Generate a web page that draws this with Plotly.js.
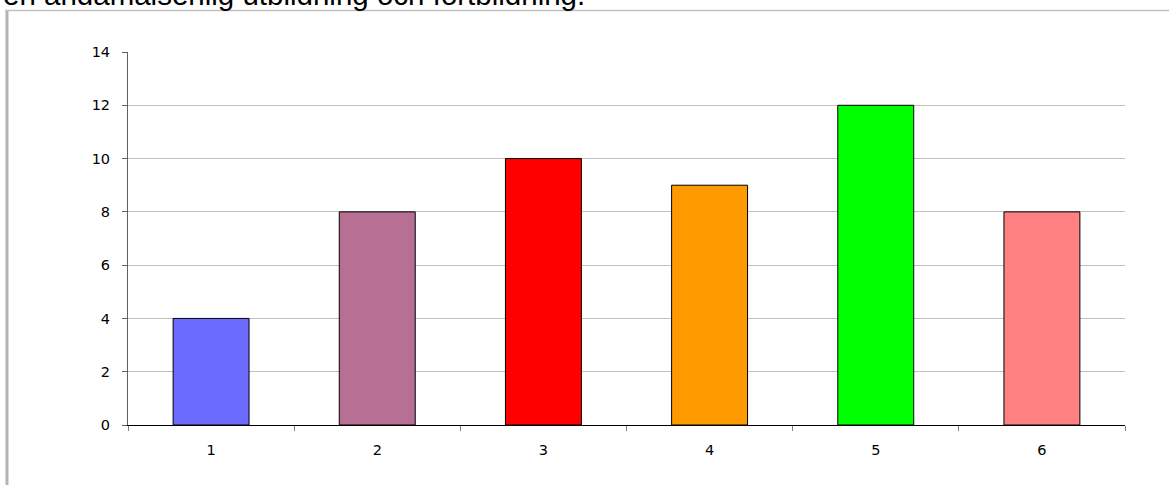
<!DOCTYPE html>
<html>
<head>
<meta charset="utf-8">
<script src="https://cdn.plot.ly/plotly-3.0.1.min.js"></script>
<style>
  html, body { margin: 0; padding: 0; background: #ffffff; }
  #chart { width: 1169px; height: 485px; }
</style>
</head>
<body>
<div id="chart"></div>
<script>
// Categories and counts
const categories = ['1', '2', '3', '4', '5', '6'];
const counts = [4, 8, 10, 9, 12, 8];
const barColors = ['#6B6BFF', '#B77093', '#FF0000', '#FF9900', '#00FF00', '#FF8080'];
const yTicks = [0, 2, 4, 6, 8, 10, 12, 14];
const headingText = 'en ändamålsenlig utbildning och fortbildning.';

const tickFont = { family: 'DejaVu Sans, Verdana, sans-serif', size: 14.5, color: '#000000' };

const trace = {
  type: 'bar',
  x: categories,
  y: counts,
  marker: { color: barColors, line: { color: '#000000', width: 1 } },
  hoverinfo: 'x+y'
};

const layout = {
  width: 1169,
  height: 485,
  margin: { l: 128, r: 44, t: 52, b: 60 },
  paper_bgcolor: '#ffffff',
  plot_bgcolor: '#ffffff',
  showlegend: false,
  bargap: 0.543,
  font: tickFont,
  xaxis: {
    type: 'category',
    tickfont: tickFont,
    showgrid: false,
    showline: true,
    linecolor: '#000000',
    linewidth: 1,
    ticks: 'outside',
    tickson: 'boundaries',
    ticklen: 5,
    tickcolor: '#808080',
    ticklabelstandoff: 12,
    zeroline: false,
    fixedrange: true
  },
  yaxis: {
    range: [0, 14],
    tickvals: yTicks,
    ticktext: yTicks.map(String),
    tickfont: tickFont,
    showgrid: true,
    gridcolor: '#C0C0C0',
    gridwidth: 1,
    showline: true,
    linecolor: '#606060',
    linewidth: 1,
    ticks: 'outside',
    ticklen: 5,
    tickcolor: '#606060',
    ticklabelstandoff: 9,
    zeroline: false,
    fixedrange: true
  },
  annotations: [{
    text: headingText,
    xref: 'paper', yref: 'paper',
    x: -0.1274, y: 1.153,
    xanchor: 'left', yanchor: 'middle',
    showarrow: false,
    font: { family: 'Liberation Sans, Arial, sans-serif', size: 29.5, color: '#000000' }
  }],
  shapes: [
    // frame around the chart object: left edge
    { type: 'line', xref: 'paper', yref: 'paper',
      x0: -0.1214, x1: -0.1214, y0: 1.1113, y1: -0.2,
      line: { color: '#B4B4B4', width: 3 } },
    // frame: top edge
    { type: 'line', xref: 'paper', yref: 'paper',
      x0: -0.1234, x1: 1.1, y0: 1.1113, y1: 1.1113,
      line: { color: '#C0C0C0', width: 1.5 } }
  ]
};

Plotly.newPlot('chart', [trace], layout, { displayModeBar: false, staticPlot: true });
</script>
</body>
</html>
